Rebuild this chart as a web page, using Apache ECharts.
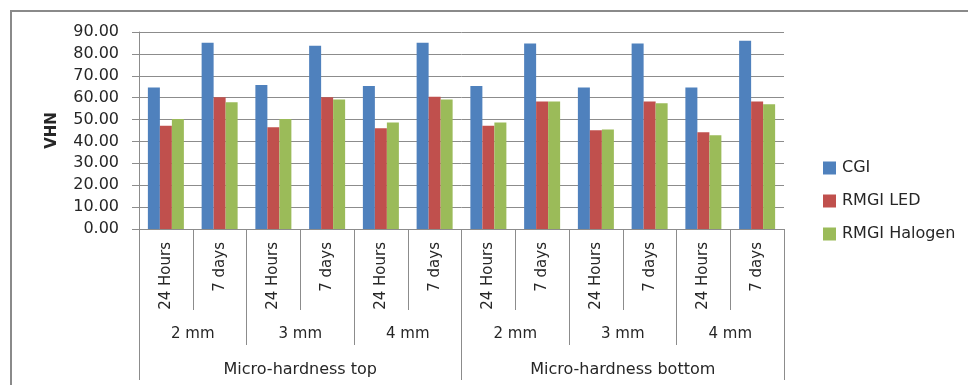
<!DOCTYPE html>
<html>
<head>
<meta charset="utf-8">
<script src="https://cdn.jsdelivr.net/npm/echarts@6/dist/echarts.min.js"></script>
<style>
  html, body { margin: 0; padding: 0; background: #fff; }
  #chart { width: 968px; height: 385px; }
</style>
</head>
<body>
<div id="chart"></div>
<script>
// Category levels, innermost first
const timeLabels = ['24 Hours', '7 days', '24 Hours', '7 days', '24 Hours', '7 days',
                    '24 Hours', '7 days', '24 Hours', '7 days', '24 Hours', '7 days'];
const thicknessLabels = ['2 mm', '3 mm', '4 mm', '2 mm', '3 mm', '4 mm'];
const surfaceLabels = ['Micro-hardness top', 'Micro-hardness bottom'];

// Vickers hardness values per material
const cgi        = [64.7, 85.1, 65.8, 83.7, 65.3, 85.1, 65.3, 84.7, 64.7, 84.7, 64.7, 86.0];
const rmgiLed    = [47.2, 60.2, 46.5, 60.2, 46.0, 60.4, 47.2, 58.3, 45.1, 58.3, 44.2, 58.3];
const rmgiHalogen= [50.2, 57.9, 50.2, 59.2, 48.6, 59.2, 48.6, 58.3, 45.5, 57.4, 42.8, 57.0];

const yTicks = { min: 0, max: 90, interval: 10 };

const FONT = 'DejaVu Sans';
const TEXT = '#262626';
const LINE = '#8c8c8c';

const chart = echarts.init(document.getElementById('chart'), null, { renderer: 'canvas' });

chart.setOption({
  animation: false,
  backgroundColor: '#ffffff',
  textStyle: { fontFamily: FONT, color: TEXT },
  graphic: [{
    type: 'rect',
    shape: { x: 11, y: 11, width: 1200, height: 600 },
    style: { fill: 'none', stroke: '#8a8a8a', lineWidth: 2 },
    silent: true
  }],
  grid: { left: 139, right: 184, top: 32, bottom: 156, containLabel: false },
  legend: {
    orient: 'vertical',
    left: 818,
    top: 155,
    itemWidth: 13,
    itemHeight: 13,
    itemGap: 17,
    icon: 'rect',
    textStyle: { fontFamily: FONT, fontSize: 16, color: TEXT, padding: [0, 0, 0, 1] },
    data: ['CGI', 'RMGI LED', 'RMGI Halogen']
  },
  xAxis: [
    {
      type: 'category',
      data: timeLabels,
      axisLine: { show: true, lineStyle: { color: LINE, width: 1 } },
      axisTick: { show: true, length: 81, interval: 0, lineStyle: { color: LINE } },
      axisLabel: { interval: 0, rotate: 90, margin: 13, fontSize: 15, color: TEXT, fontFamily: FONT }
    },
    {
      type: 'category',
      position: 'bottom',
      offset: 81,
      data: thicknessLabels,
      axisLine: { show: false },
      axisTick: { show: true, length: 35, interval: 0, lineStyle: { color: LINE } },
      axisLabel: { interval: 0, margin: 17, fontSize: 15, color: TEXT, fontFamily: FONT }
    },
    {
      type: 'category',
      position: 'bottom',
      offset: 116,
      data: surfaceLabels,
      axisLine: { show: false },
      axisTick: { show: true, length: 35, interval: 0, lineStyle: { color: LINE } },
      axisLabel: { interval: 0, margin: 17, fontSize: 16, color: TEXT, fontFamily: FONT }
    }
  ],
  yAxis: {
    type: 'value',
    min: yTicks.min,
    max: yTicks.max,
    interval: yTicks.interval,
    name: 'VHN',
    nameLocation: 'middle',
    nameGap: 79,
    nameTextStyle: { fontFamily: FONT, fontWeight: 'bold', fontSize: 15, color: TEXT },
    axisLine: { show: true, lineStyle: { color: LINE } },
    axisTick: { show: true, length: 7, lineStyle: { color: LINE } },
    axisLabel: {
      margin: 20,
      fontSize: 16,
      color: TEXT,
      fontFamily: FONT,
      formatter: v => v.toFixed(2)
    },
    splitLine: { show: true, lineStyle: { color: LINE, width: 1 } }
  },
  series: [
    { name: 'CGI', type: 'bar', data: cgi, barWidth: 12, barGap: '0%',
      itemStyle: { color: '#4f81bd' } },
    { name: 'RMGI LED', type: 'bar', data: rmgiLed, barWidth: 12, barGap: '0%',
      itemStyle: { color: '#c0504d' } },
    { name: 'RMGI Halogen', type: 'bar', data: rmgiHalogen, barWidth: 12, barGap: '0%',
      itemStyle: { color: '#9bbb59' } }
  ]
});
</script>
</body>
</html>
